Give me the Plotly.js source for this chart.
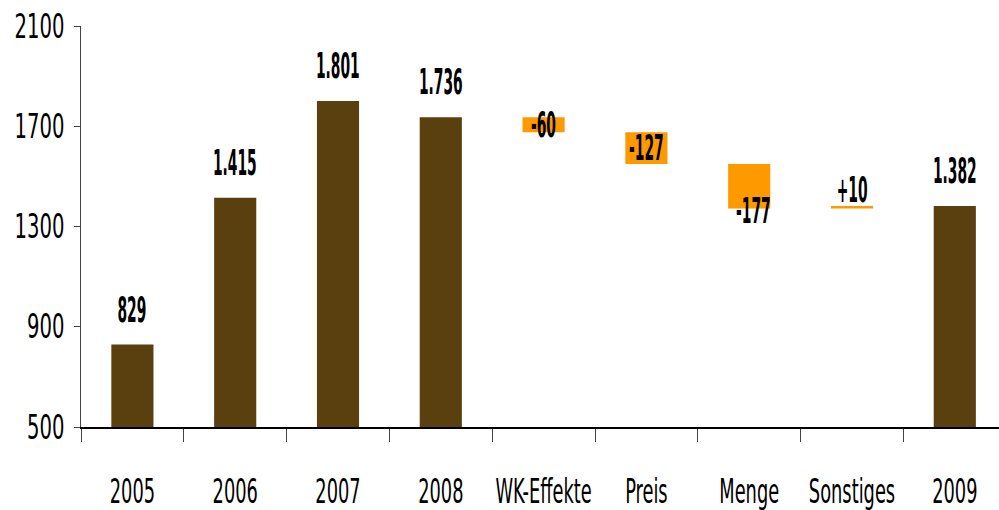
<!DOCTYPE html>
<html>
<head>
<meta charset="utf-8">
<script src="https://cdn.plot.ly/plotly-3.0.1.min.js"></script>
<style>
  html, body { margin: 0; padding: 0; background: #fff; }
  #chart { width: 999px; height: 510px; }
</style>
</head>
<body>
<div id="chart"></div>
<script>
// Werte der Brücke 2005 -> 2009
const kategorien = ['2005', '2006', '2007', '2008', 'WK-Effekte', 'Preis', 'Menge', 'Sonstiges', '2009'];
const werte = [829, 1415, 1801, 1736, -60, -127, -177, 10, 1382];
const messart = ['absolute', 'absolute', 'absolute', 'absolute', 'relative', 'relative', 'relative', 'relative', 'total'];
const beschriftung = ['829', '1.415', '1.801', '1.736', '-60', '-127', '-177', '+10', '1.382'];
const yTicks = [500, 900, 1300, 1700, 2100];

const FONT = '"DejaVu Sans Condensed", "Liberation Sans Narrow", sans-serif';
const BRAUN = '#5a3f0f';
const ORANGE = '#ff9900';

// Lage der Beschriftung je Balken
const labelLage = ['oben', 'oben', 'oben', 'oben', 'mitte', 'mitte', 'unten', 'oben', 'oben'];

const trace = {
  type: 'waterfall',
  x: kategorien,
  y: werte,
  measure: messart,
  width: 0.41,
  totals: { marker: { color: BRAUN } },
  increasing: { marker: { color: ORANGE } },
  decreasing: { marker: { color: ORANGE } },
  connector: { visible: false },
  hoverinfo: 'x+y',
};

// laufende Summe für die Position der Beschriftungen
let summe = 0;
const annotations = kategorien.map((k, i) => {
  let start, ende;
  if (messart[i] === 'relative') {
    start = summe;
    ende = summe + werte[i];
  } else {
    start = 0;
    ende = messart[i] === 'total' ? summe : werte[i];
  }
  summe = ende;
  const lage = labelLage[i];
  const a = {
    x: i, xref: 'x', yref: 'y',   // Index statt '2005' (sonst als Zahl gelesen)
    text: beschriftung[i],
    showarrow: false,
    yanchor: 'middle',
    font: { family: FONT, size: 35, color: '#000', weight: 'bold', stretch: 'condensed' },
  };
  if (lage === 'oben') {
    a.y = Math.max(start, ende);
    a.yshift = messart[i] === 'relative' ? 16 : 35;
  } else if (lage === 'mitte') {
    a.y = (start + ende) / 2;
  } else {
    a.y = Math.min(start, ende); a.yshift = -3; a.xshift = 4;
  }
  return a;
});

const tickFont = { family: FONT, size: 33, color: '#000', stretch: 'condensed' };

const layout = {
  width: 999, height: 510,
  paper_bgcolor: '#fff', plot_bgcolor: '#fff',
  font: { family: FONT, size: 33, color: '#000' },
  margin: { l: 81, r: 0, t: 26, b: 83 },
  showlegend: false,
  xaxis: {
    type: 'category',
    range: [-0.5, 8.43],
    tickson: 'boundaries',
    tickangle: 0,
    ticks: 'outside', ticklen: 13, tickwidth: 1, tickcolor: '#444',
    ticklabelstandoff: 34,
    showline: true, linecolor: '#000', linewidth: 2,
    showgrid: false, zeroline: false,
    tickfont: tickFont,
  },
  yaxis: {
    range: [500, 2100],
    tickvals: yTicks,
    ticktext: yTicks.map(String),
    ticks: 'outside', ticklen: 6, tickwidth: 1, tickcolor: '#444',
    ticklabelstandoff: 3,
    showline: true, linecolor: '#444', linewidth: 1,
    showgrid: false, zeroline: false,
    tickfont: tickFont,
  },
  annotations: annotations,
};

// Schmale, hohe Schrift wie im Original: Texte horizontal stauchen
function stauchen(selector, faktor) {
  document.querySelectorAll(selector).forEach(t => {
    const w = t.getComputedTextLength();
    t.setAttribute('textLength', (w * faktor).toFixed(1));
    t.setAttribute('lengthAdjust', 'spacingAndGlyphs');
  });
}

Plotly.newPlot('chart', [trace], layout, { displayModeBar: false, staticPlot: true }).then(() => {
  stauchen('#chart .xtick text', 0.6);
  stauchen('#chart .ytick text', 0.66);
  stauchen('#chart .annotation-text', 0.44);
});
</script>
</body>
</html>
